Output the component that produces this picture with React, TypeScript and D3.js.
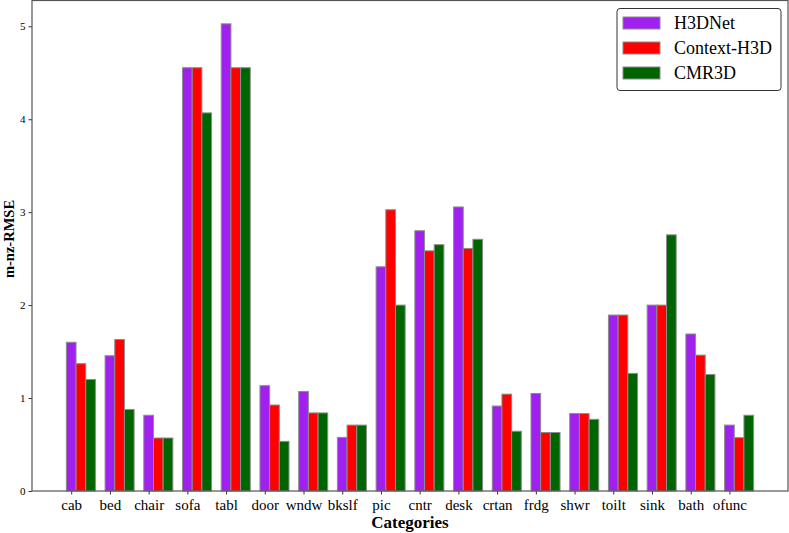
import { useEffect, useRef } from "react";
import * as d3 from "d3";

const categories = ["cab", "bed", "chair", "sofa", "tabl", "door", "wndw", "bkslf", "pic", "cntr", "desk", "crtan", "frdg", "shwr", "toilt", "sink", "bath", "ofunc"];
const seriesNames = ["H3DNet", "Context-H3D", "CMR3D"];
const seriesColors = ["#a020f0", "#ff0000", "#006400"];
const h3dnet = [1.60, 1.455, 0.815, 4.554, 5.026, 1.133, 1.071, 0.577, 2.412, 2.80, 3.056, 0.914, 1.049, 0.833, 1.893, 2.0, 1.689, 0.709];
const contextH3d = [1.37, 1.63, 0.57, 4.554, 4.554, 0.925, 0.84, 0.709, 3.026, 2.584, 2.61, 1.042, 0.629, 0.833, 1.893, 2.0, 1.462, 0.574];
const cmr3d = [1.20, 0.877, 0.57, 4.068, 4.554, 0.534, 0.84, 0.709, 2.0, 2.65, 2.708, 0.643, 0.629, 0.771, 1.265, 2.756, 1.254, 0.815];
const yTicks = [0, 1, 2, 3, 4, 5];

const W = 789;
const H = 533;
const FONT = "Liberation Serif, Times New Roman, serif";

export default function App() {
  const svgRef = useRef<SVGSVGElement>(null);

  useEffect(() => {
    const m = { top: 0.5, right: 1, bottom: 42, left: 32 };
    const w = W - m.left - m.right;
    const h = H - m.top - m.bottom;
    const series = [h3dnet, contextH3d, cmr3d];
    const bw = 0.25;

    const svg = d3.select(svgRef.current);
    svg.selectAll("*").remove();
    const g = svg.append("g").attr("transform", `translate(${m.left},${m.top})`);

    // matplotlib-style 5% margins around the bar extent
    const lo = -bw / 2;
    const hi = categories.length - 1 + 2 * bw + bw / 2;
    const pad = (hi - lo) * 0.05;
    const x = d3.scaleLinear().domain([lo - pad, hi + pad]).range([0, w]);
    const yMax = d3.max(h3dnet.concat(contextH3d, cmr3d)) as number;
    const y = d3.scaleLinear().domain([0, yMax * 1.05]).range([h, 0]);

    // Bars
    series.forEach((vals, s) => {
      g.append("g")
        .selectAll("rect")
        .data(vals)
        .enter()
        .append("rect")
        .attr("x", (_, i) => x(i + s * bw - bw / 2))
        .attr("width", x(bw) - x(0))
        .attr("y", (d) => y(d))
        .attr("height", (d) => y(0) - y(d))
        .attr("fill", seriesColors[s])
        .attr("stroke", "#8c8c8c")
        .attr("stroke-width", 1);
    });

    // X axis
    g.append("g")
      .attr("transform", `translate(0,${h})`)
      .call(d3.axisBottom(x).tickValues(d3.range(categories.length)).tickSize(3.5).tickFormat((d) => categories[d as number]))
      .call((a) => {
        a.select(".domain").remove();
        a.selectAll("line").attr("stroke", "#333");
        a.selectAll("text").attr("fill", "#000").attr("font-size", "15px").attr("font-family", FONT).attr("dy", "0.8em");
      });

    // Y axis
    g.append("g")
      .call(d3.axisLeft(y).tickValues(yTicks).tickSize(3.5).tickFormat(d3.format("d")))
      .call((a) => {
        a.select(".domain").remove();
        a.selectAll("line").attr("stroke", "#333");
        a.selectAll("text").attr("fill", "#000").attr("font-size", "11px").attr("font-family", FONT);
      });

    // Frame
    g.append("rect")
      .attr("width", w)
      .attr("height", h)
      .attr("fill", "none")
      .attr("stroke", "#555")
      .attr("stroke-width", 1.2);

    // Axis labels
    svg.append("text")
      .attr("x", m.left + w / 2)
      .attr("y", 528)
      .attr("text-anchor", "middle")
      .attr("font-family", FONT)
      .attr("font-weight", "bold")
      .attr("font-size", "17px")
      .text("Categories");

    svg.append("text")
      .attr("transform", `translate(14,239) rotate(-90)`)
      .attr("text-anchor", "middle")
      .attr("font-family", FONT)
      .attr("font-weight", "bold")
      .attr("font-size", "14.5px")
      .text("m-nz-RMSE");

    // Legend
    const lg = svg.append("g").attr("transform", "translate(617,8.5)");
    lg.append("rect")
      .attr("width", 164)
      .attr("height", 82)
      .attr("rx", 3)
      .attr("fill", "#fff")
      .attr("stroke", "#333")
      .attr("stroke-width", 1);
    seriesNames.forEach((name, i) => {
      const cy = 14.5 + i * 25;
      lg.append("rect")
        .attr("x", 6)
        .attr("y", cy - 6)
        .attr("width", 37)
        .attr("height", 12)
        .attr("fill", seriesColors[i])
        .attr("stroke", "#8c8c8c");
      lg.append("text")
        .attr("x", 57)
        .attr("y", cy)
        .attr("dy", "0.35em")
        .attr("font-family", FONT)
        .attr("font-size", "18px")
        .text(name);
    });
  }, []);

  return <svg ref={svgRef} width={W} height={H} style={{ display: "block", position: "absolute", left: 0, top: 0, background: "#fff", fontFamily: FONT }} />;
}
